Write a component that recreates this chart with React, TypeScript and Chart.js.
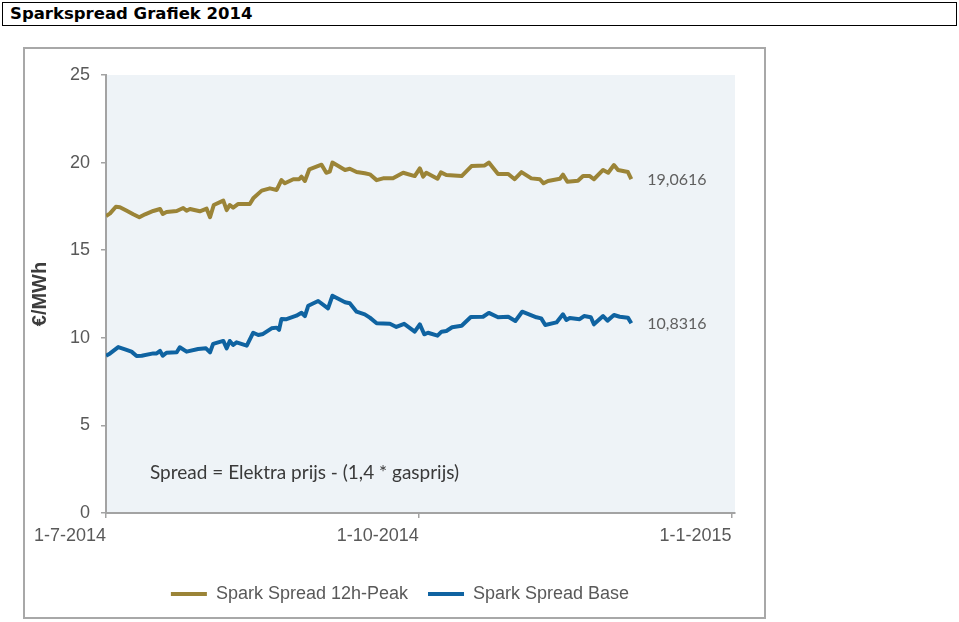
import React, { useEffect, useRef } from "react";
import { Chart, registerables } from "chart.js";

Chart.register(...registerables);

// days since 1-7-2014
const peakDays = [0,1.2,2.9,4.1,6.1,8.0,9.8,11.5,13.9,15.9,16.7,17.8,20.8,22.7,23.7,24.7,27.6,29.6,30.6,31.7,34.5,35.5,36.4,37.4,38.9,42.3,43.3,45.8,48.2,50.2,51.6,52.6,55.1,56.8,57.5,58.5,59.8,63.4,64.8,65.8,66.6,70.3,71.7,73.7,76.1,77.6,79.6,81.5,84.4,87.4,90.8,92.3,93.3,94.2,97.5,98.5,100.1,104.6,107.5,111.4,112.6,115.3,118.3,120.2,122.2,125.1,127.6,128.7,130.0,133.5,134.4,135.7,138.8,140.3,142.3,143.5,146.2,147.7,149.4,150.6,153.5,154.5];
const peakValues = [16.95,17.1,17.48,17.45,17.25,17.05,16.88,17.05,17.24,17.35,17.07,17.18,17.24,17.41,17.25,17.35,17.22,17.37,16.88,17.58,17.83,17.29,17.58,17.43,17.64,17.64,17.96,18.4,18.53,18.44,19.0,18.82,19.05,19.05,19.2,18.95,19.62,19.88,19.42,19.48,20.0,19.58,19.65,19.46,19.39,19.33,19.0,19.1,19.1,19.42,19.23,19.67,19.2,19.42,19.08,19.44,19.29,19.23,19.8,19.84,20.0,19.35,19.35,19.05,19.46,19.1,19.05,18.82,18.95,19.08,19.31,18.91,18.97,19.23,19.23,19.05,19.58,19.42,19.86,19.58,19.46,19.0616];

const baseDays = [0,1.2,3.6,5.6,7.5,9.0,10.5,13.9,14.9,15.9,16.7,17.8,20.8,21.7,23.7,27.1,29.4,30.6,31.5,34.5,35.5,36.4,37.4,38.4,41.4,43.3,44.8,46.2,48.7,50.2,50.9,51.6,53.1,56.0,57.5,58.5,59.5,62.4,65.3,66.6,70.3,71.7,73.7,76.1,77.6,79.6,83.5,85.4,87.7,90.8,92.3,93.6,94.7,97.5,98.7,100.1,101.8,104.6,107.3,110.9,112.6,115.3,118.3,120.4,122.4,126.6,128.0,129.2,132.5,134.4,135.4,136.4,139.3,140.6,142.6,143.5,146.2,147.5,149.4,151.1,153.5,154.5];
const baseValues = [8.98,9.11,9.47,9.34,9.21,8.96,8.98,9.11,9.11,9.25,8.98,9.15,9.17,9.46,9.21,9.36,9.4,9.17,9.65,9.82,9.4,9.82,9.59,9.74,9.55,10.29,10.16,10.22,10.54,10.58,10.45,11.07,11.06,11.26,11.43,11.24,11.83,12.1,11.68,12.4,12.03,11.97,11.49,11.34,11.15,10.83,10.8,10.62,10.8,10.35,10.77,10.2,10.29,10.12,10.35,10.39,10.6,10.69,11.19,11.2,11.42,11.17,11.2,10.96,11.49,11.17,11.11,10.73,10.88,11.34,11.02,11.13,11.06,11.24,11.17,10.77,11.24,10.98,11.3,11.2,11.15,10.8316];

const seriesNames = ["Spark Spread 12h-Peak", "Spark Spread Base"];
const seriesColors = ["#9b8437", "#0f63a1"];

const xTickDays = [0, 92, 184];
const xTickLabels = ["1-7-2014", "1-10-2014", "1-1-2015"];
const xMaxDay = 185;
const yTicks = [0, 5, 10, 15, 20, 25];

const titleText = "Sparkspread Grafiek 2014";
const yAxisTitle = "€/MWh";
const noteText = "Spread = Elektra prijs - (1,4 * gasprijs)";

const fmt = (v: number) => v.toFixed(4).replace(".", ",");

const decorPlugin = {
  id: "decor",
  beforeDraw(chart: any) {
    const { ctx, chartArea } = chart;
    ctx.save();
    ctx.fillStyle = "#eef3f7";
    ctx.fillRect(chartArea.left, chartArea.top, chartArea.right - chartArea.left, chartArea.bottom - chartArea.top);
    ctx.restore();
  },
  afterDatasetsDraw(chart: any) {
    const { ctx, chartArea } = chart;
    ctx.save();
    ctx.textBaseline = "middle";
    ctx.textAlign = "left";
    ctx.fillStyle = "#5f5f5f";
    ctx.font = "16px Lato";
    chart.data.datasets.forEach((ds: any, i: number) => {
      const meta = chart.getDatasetMeta(i);
      const last = meta.data[meta.data.length - 1];
      const v = ds.data[ds.data.length - 1].y;
      ctx.fillText(fmt(v), last.x + 16, last.y + 1);
    });
    ctx.fillStyle = "#3a3a3a";
    ctx.font = "19px Lato";
    ctx.fillText(noteText, chartArea.left + 44, chartArea.top + 398);
    ctx.restore();
  },
};

export default function App() {
  const ref = useRef<HTMLCanvasElement>(null);

  useEffect(() => {
    if (!ref.current) return;
    const axisGray = "#a3a3a3";
    const chart = new Chart(ref.current, {
      type: "line",
      data: {
        datasets: [
          {
            label: seriesNames[0],
            data: peakDays.map((d, i) => ({ x: d, y: peakValues[i] })),
            borderColor: seriesColors[0],
            backgroundColor: seriesColors[0],
            borderWidth: 4,
            pointRadius: 0,
            pointStyle: "line",
            tension: 0,
            borderJoinStyle: "round",
          },
          {
            label: seriesNames[1],
            data: baseDays.map((d, i) => ({ x: d, y: baseValues[i] })),
            borderColor: seriesColors[1],
            backgroundColor: seriesColors[1],
            borderWidth: 4,
            pointRadius: 0,
            pointStyle: "line",
            tension: 0,
            borderJoinStyle: "round",
          },
        ],
      },
      options: {
        responsive: false,
        animation: false,
        devicePixelRatio: 1,
        layout: { padding: { left: 0, top: 27, right: 8, bottom: 5 } },
        plugins: {
          tooltip: { enabled: false },
          legend: {
            position: "bottom",
            labels: {
              usePointStyle: true,
              pointStyleWidth: 36,
              padding: 20,
              color: "#595959",
              font: { family: "'Liberation Sans', Arial, sans-serif", size: 18 },
            },
          },
        },
        scales: {
          x: {
            type: "linear",
            min: 0,
            max: xMaxDay,
            afterBuildTicks: (s: any) => {
              s.ticks = xTickDays.map((v) => ({ value: v }));
            },
            afterFit: (s: any) => {
              s.height = 52;
            },
            ticks: {
              align: "end",
              padding: 7,
              maxRotation: 0,
              color: "#595959",
              font: { family: "'Liberation Sans', Arial, sans-serif", size: 18 },
              callback: (v: any) => {
                const i = xTickDays.indexOf(Number(v));
                return i >= 0 ? xTickLabels[i] : "";
              },
            },
            grid: { drawOnChartArea: false, drawTicks: true, tickLength: 5, color: axisGray, lineWidth: 1.5 },
            border: { color: axisGray, width: 2 },
          },
          y: {
            type: "linear",
            min: 0,
            max: 25,
            afterBuildTicks: (s: any) => {
              s.ticks = yTicks.map((v) => ({ value: v }));
            },
            afterFit: (s: any) => {
              s.width = 82;
            },
            ticks: {
              padding: 11,
              color: "#595959",
              font: { family: "'Liberation Sans', Arial, sans-serif", size: 18 },
            },
            title: {
              display: true,
              text: yAxisTitle,
              color: "#3c3c3c",
              padding: { top: 4, bottom: 0 },
              font: { family: "'Liberation Sans', Arial, sans-serif", size: 20, weight: "bold" },
            },
            grid: { drawOnChartArea: false, drawTicks: true, tickLength: 5, color: axisGray, lineWidth: 1.5 },
            border: { color: axisGray, width: 2 },
          },
          spacer: {
            type: "linear",
            position: "right",
            display: true,
            ticks: { display: false },
            grid: { display: false },
            border: { display: false },
            afterFit: (s: any) => {
              s.width = 41;
            },
          },
        },
      },
      plugins: [decorPlugin],
    } as any);
    return () => chart.destroy();
  }, []);

  return (
    <div style={{ position: "absolute", left: 0, top: 0, width: 959, height: 622, background: "#fff" }}>
      <div
        style={{
          position: "absolute",
          left: 2,
          top: 2,
          width: 955,
          height: 24,
          boxSizing: "border-box",
          border: "1.5px solid #000",
          fontFamily: "'DejaVu Sans', Verdana, sans-serif",
          fontWeight: "bold",
          fontSize: 16.5,
          lineHeight: "21px",
          paddingLeft: 7,
          color: "#000",
        }}
      >
        {titleText}
      </div>
      <canvas
        ref={ref}
        width={760}
        height={570}
        style={{ position: "absolute", left: 24, top: 48, width: 760, height: 570 }}
      />
      <div
        style={{
          position: "absolute",
          left: 23,
          top: 47,
          width: 743,
          height: 572,
          boxSizing: "border-box",
          border: "2px solid #a8a8a8",
          pointerEvents: "none",
        }}
      />
    </div>
  );
}
